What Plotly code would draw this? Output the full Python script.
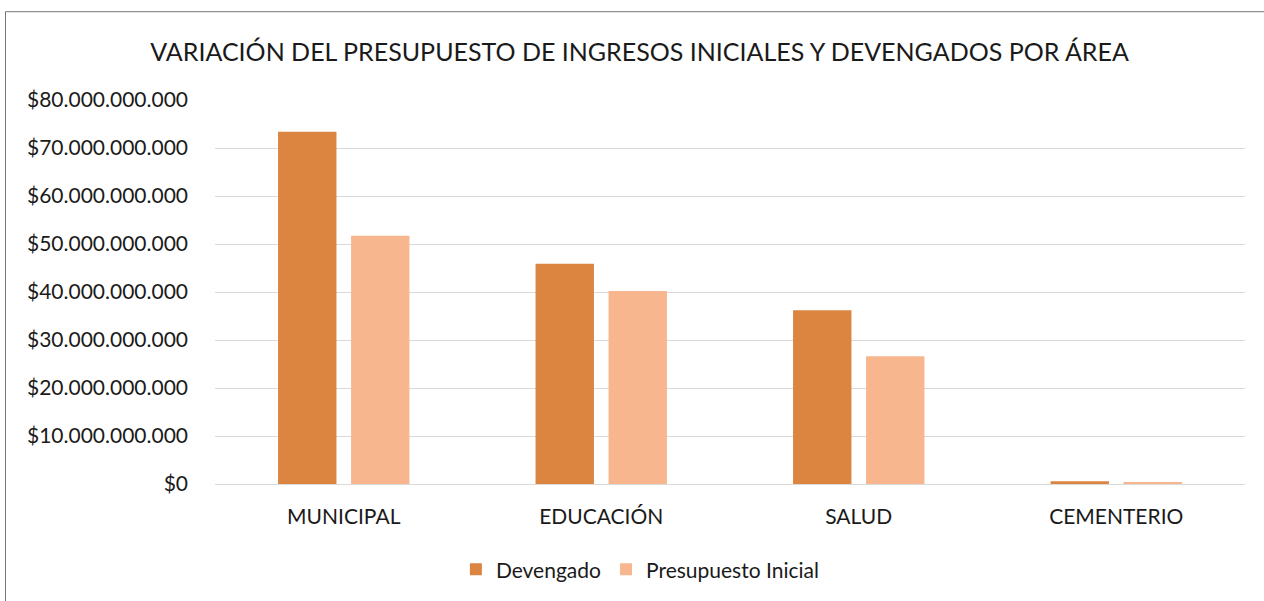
"""Bar chart: initial budget vs. accrued income by area."""

import plotly.graph_objects as go

AREAS = ["MUNICIPAL", "EDUCACIÓN", "SALUD", "CEMENTERIO"]
DEVENGADO = [73.4e9, 45.9e9, 36.2e9, 0.55e9]
PRESUPUESTO_INICIAL = [51.7e9, 40.2e9, 26.6e9, 0.35e9]
Y_TICKS = [0, 10e9, 20e9, 30e9, 40e9, 50e9, 60e9, 70e9, 80e9]

FONT = "Lato, 'Open Sans', sans-serif"
TEXT_COLOR = "#1a1a1a"

fig = go.Figure()
fig.add_trace(
    go.Bar(
        name="Devengado",
        x=AREAS,
        y=DEVENGADO,
        marker={"color": "#db8540", "line": {"width": 0}},
    )
)
fig.add_trace(
    go.Bar(
        name="Presupuesto Inicial",
        x=AREAS,
        y=PRESUPUESTO_INICIAL,
        marker={"color": "#f8b68f", "line": {"width": 0}},
    )
)

fig.update_layout(
    width=1264,
    height=601,
    margin={"l": 215, "r": 19, "t": 100, "b": 116},
    paper_bgcolor="white",
    plot_bgcolor="white",
    separators=",.",
    font={"family": FONT, "size": 21, "color": TEXT_COLOR},
    title={
        "text": "VARIACIÓN DEL PRESUPUESTO DE INGRESOS INICIALES Y DEVENGADOS POR ÁREA",
        "x": 0.506,
        "xanchor": "center",
        "y": 1 - 52 / 601,
        "yanchor": "middle",
        "font": {"family": FONT, "size": 25, "color": TEXT_COLOR},
    },
    barmode="group",
    bargap=0.433,
    bargroupgap=0.2,
    showlegend=True,
    legend={
        "orientation": "h",
        "x": 0.413,
        "xanchor": "center",
        "y": -0.22,
        "yanchor": "middle",
        "font": {"family": FONT, "size": 21, "color": TEXT_COLOR},
        "itemwidth": 30,
    },
    xaxis={
        "showgrid": False,
        "showline": False,
        "ticks": "",
        "ticklabelstandoff": 18,
        "tickfont": {"size": 21},
    },
    yaxis={
        "range": [0, 80e9],
        "tickvals": Y_TICKS,
        "tickformat": "$,.0f",
        "showgrid": True,
        "gridcolor": "#d9d9d9",
        "gridwidth": 1,
        "zeroline": True,
        "zerolinecolor": "#d9d9d9",
        "zerolinewidth": 1,
        "ticks": "",
        "ticklabelstandoff": 26,
        "tickfont": {"size": 21},
    },
    shapes=[
        {
            "type": "rect",
            "xref": "paper",
            "yref": "paper",
            "x0": (5.5 - 215) / 1030,
            "x1": (1280 - 215) / 1030,
            "y0": (485 - 620) / 385,
            "y1": (485 - 11.5) / 385,
            "line": {"color": "#767676", "width": 1},
            "layer": "below",
        }
    ],
)

fig.write_html(
    "out.html",
    config={"displayModeBar": False},
    post_script="document.body.style.margin='0';",
)
